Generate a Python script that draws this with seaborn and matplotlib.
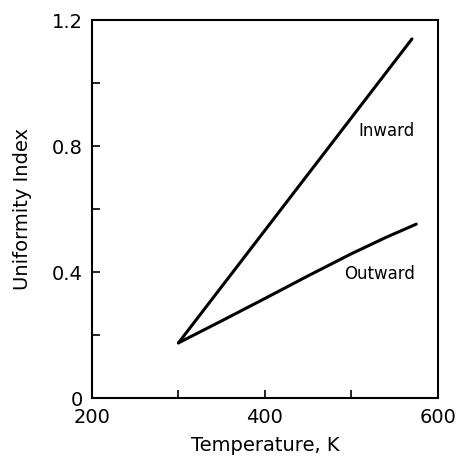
import matplotlib
matplotlib.use("Agg")
import matplotlib.pyplot as plt
import seaborn as sns
import pandas as pd

# Uniformity index vs. temperature for the two flow directions
inward_temp = [300, 570]
inward_index = [0.175, 1.14]

outward_temp = [300, 350, 400, 450, 500, 540, 575]
outward_index = [0.175, 0.245, 0.316, 0.388, 0.458, 0.51, 0.552]

x_ticks = [200, 300, 400, 500, 600]
x_tick_labels = ["200", "", "400", "", "600"]
y_ticks = [0, 0.2, 0.4, 0.6, 0.8, 1.0, 1.2]
y_tick_labels = ["0", "", "0.4", "", "0.8", "", "1.2"]

df = pd.concat([
    pd.DataFrame({"T": inward_temp, "U": inward_index, "dir": "Inward"}),
    pd.DataFrame({"T": outward_temp, "U": outward_index, "dir": "Outward"}),
])

sns.set_style("ticks")
plt.rcParams["font.family"] = ["DejaVu Sans"]
plt.rcParams["text.color"] = "black"
plt.rcParams["axes.labelcolor"] = "black"

fig = plt.figure(figsize=(4.59, 4.66), dpi=100)
ax = fig.add_axes([0.2004, 0.1459, 0.7536, 0.8111])

sns.lineplot(data=df, x="T", y="U", units="dir", estimator=None,
             color="black", linewidth=2.2, ax=ax, legend=False, sort=False)

ax.set_xlim(200, 600)
ax.set_ylim(0, 1.2)
ax.set_xticks(x_ticks)
ax.set_xticklabels(x_tick_labels)
ax.set_yticks(y_ticks)
ax.set_yticklabels(y_tick_labels)
ax.tick_params(direction="in", length=6, width=1.2, labelsize=14,
               colors="black", top=False, right=False)
ax.tick_params(axis="y", pad=6.5)
ax.tick_params(axis="x", pad=7)

for s in ax.spines.values():
    s.set_visible(True)
    s.set_linewidth(1.5)
    s.set_color("black")

ax.set_xlabel("Temperature, K", fontsize=14, labelpad=7)
ax.set_ylabel("Uniformity Index", fontsize=14, labelpad=14.5)

ax.text(541, 0.848, "Inward", fontsize=12, ha="center", va="center")
ax.text(532, 0.394, "Outward", fontsize=12, ha="center", va="center")

fig.savefig("out.png", dpi=100)
